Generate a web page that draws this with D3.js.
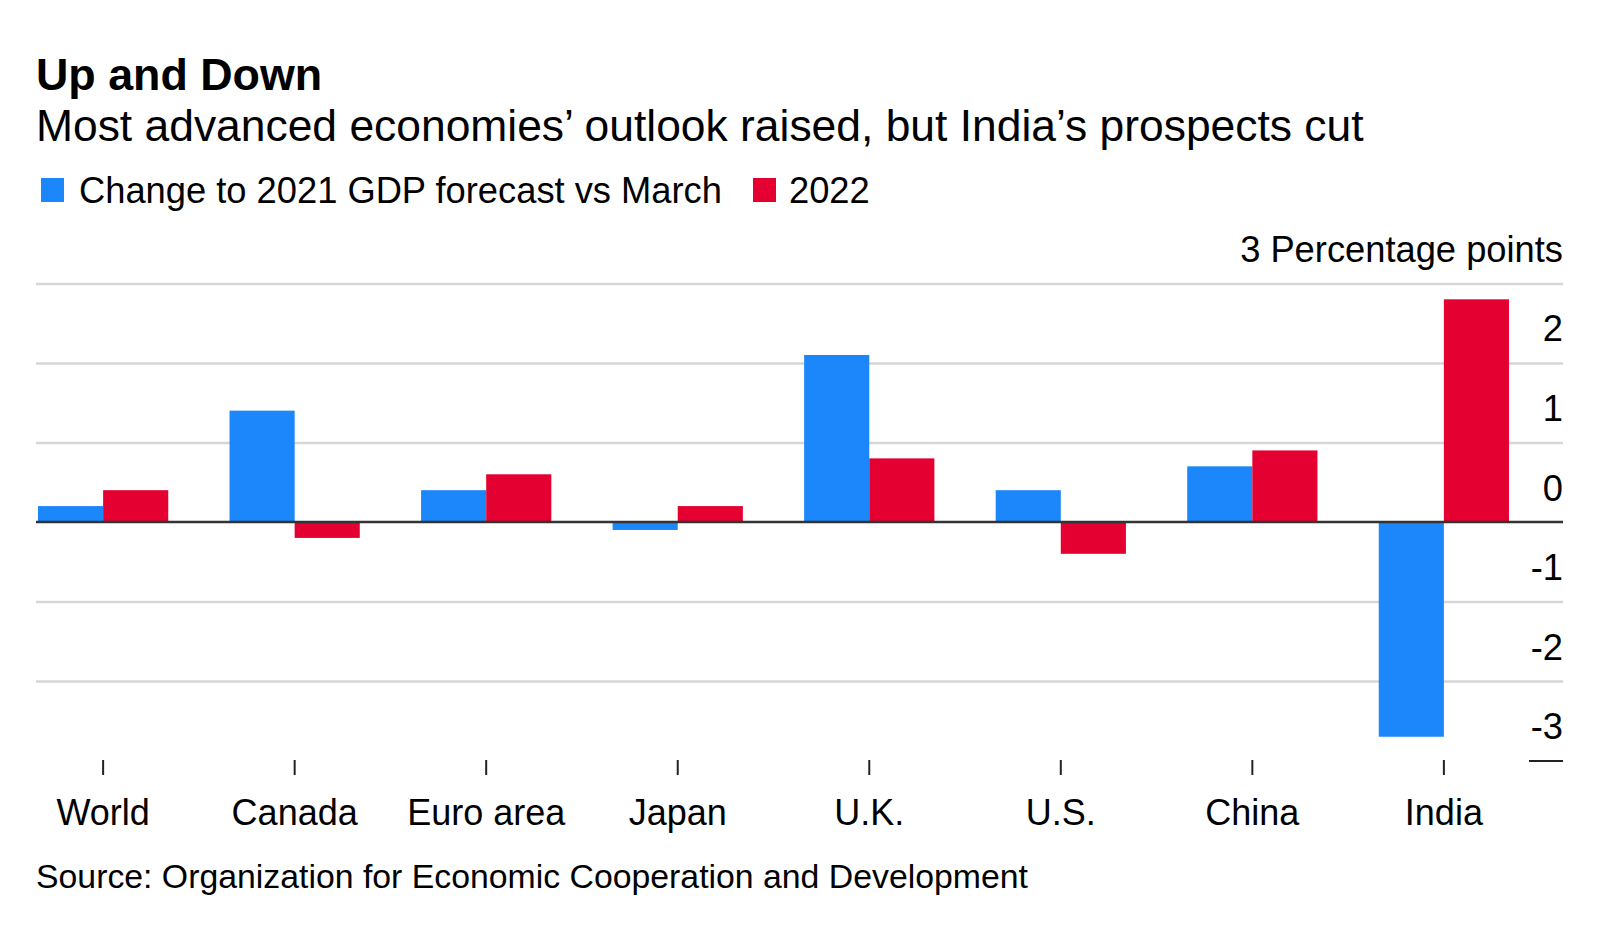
<!DOCTYPE html>
<html>
<head>
<meta charset="utf-8">
<script src="https://cdn.jsdelivr.net/npm/d3@7"></script>
<style>
  html, body { margin: 0; padding: 0; background: #fff; }
  svg { display: block; font-family: "Liberation Sans", Arial, Helvetica, sans-serif; }
</style>
</head>
<body>
<svg id="chart" width="1616" height="930"></svg>
<script>
const categories = ["World", "Canada", "Euro area", "Japan", "U.K.", "U.S.", "China", "India"];
const seriesNames = ["Change to 2021 GDP forecast vs March", "2022"];
const values2021 = [0.2, 1.4, 0.4, -0.1, 2.1, 0.4, 0.7, -2.7];
const values2022 = [0.4, -0.2, 0.6, 0.2, 0.8, -0.4, 0.9, 2.8];
const yTicks = [-3, -2, -1, 0, 1, 2, 3];
const colors = ["#1b87fa", "#e40031"];

const title = "Up and Down";
const subtitle = "Most advanced economies\u2019 outlook raised, but India\u2019s prospects cut";
const source = "Source: Organization for Economic Cooperation and Development";
const unitLabel = "Percentage points";

const svg = d3.select("#chart");
const left = 36, right = 1563;

svg.append("text").attr("x", 36).attr("y", 90)
  .attr("font-size", 44.8).attr("font-weight", "bold").attr("fill", "#000").text(title);
svg.append("text").attr("x", 36).attr("y", 141)
  .attr("font-size", 44.4).attr("fill", "#000").text(subtitle);

// legend
const legendItems = [{x: 41, tx: 79}, {x: 753, tx: 789}];
seriesNames.forEach((name, i) => {
  svg.append("rect").attr("x", legendItems[i].x).attr("y", 178)
    .attr("width", 23).attr("height", 24).attr("fill", colors[i]);
  svg.append("text").attr("x", legendItems[i].tx).attr("y", 203)
    .attr("font-size", 36.3).attr("fill", "#000").text(name);
});

const y = d3.scaleLinear().domain([-3, 3]).range([760.6, 283.4]);
const x0 = d3.scaleBand().domain(categories).range([38, 1509]).paddingInner(0.32).paddingOuter(0);
const x1 = d3.scaleBand().domain([0, 1]).range([0, x0.bandwidth()]).padding(0);

// y axis with gridlines
const yAxis = d3.axisRight(y).tickValues(yTicks)
  .tickSize(-(right - left))
  .tickFormat(d => d === 3 ? `3 ${unitLabel}` : String(d));
const gy = svg.append("g").attr("transform", `translate(${right},0)`).call(yAxis);
gy.select(".domain").remove();
gy.selectAll(".tick line").attr("stroke", "#d6d6d6").attr("stroke-width", 2.5);
gy.selectAll(".tick").filter(d => d === -3).select("line")
  .attr("x2", -34).attr("stroke", "#222").attr("stroke-width", 2);
gy.selectAll(".tick").filter(d => d === 0).select("line").attr("stroke-opacity", 0);
gy.selectAll(".tick text")
  .attr("x", 0).attr("dy", null).attr("y", -22)
  .attr("text-anchor", "end").attr("font-size", 36.3)
  .attr("font-family", "Liberation Sans, Arial, sans-serif").attr("fill", "#000");

// bars
const series = [values2021, values2022];
const groups = svg.append("g");
series.forEach((vals, si) => {
  groups.selectAll(null).data(categories).enter().append("rect")
    .attr("x", (c) => x0(c) + x1(si))
    .attr("width", x1.bandwidth())
    .attr("y", (c, i) => y(Math.max(0, vals[i])))
    .attr("height", (c, i) => Math.abs(y(vals[i]) - y(0)))
    .attr("fill", colors[si]);
});

// zero line
svg.append("line").attr("x1", left).attr("x2", right)
  .attr("y1", y(0)).attr("y2", y(0)).attr("stroke", "#333").attr("stroke-width", 2.5);

// x axis
const xAxis = d3.axisBottom(x0).tickSize(15).tickPadding(0);
const gx = svg.append("g").attr("transform", `translate(0,760)`).call(xAxis);
gx.select(".domain").remove();
gx.selectAll(".tick line").attr("stroke", "#222").attr("stroke-width", 2);
gx.selectAll(".tick text").attr("y", 65).attr("dy", null)
  .attr("font-size", 36).attr("font-family", "Liberation Sans, Arial, sans-serif").attr("fill", "#000");

svg.append("text").attr("x", 36).attr("y", 888)
  .attr("font-size", 33.8).attr("fill", "#000").text(source);
</script>
</body>
</html>
